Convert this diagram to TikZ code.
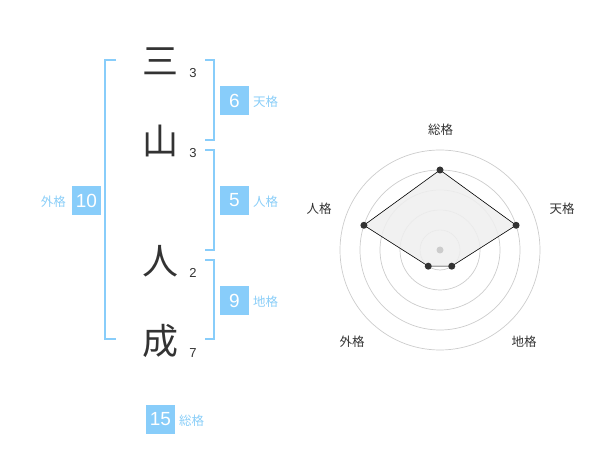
\documentclass[tikz,border=0pt]{standalone}
\usepackage{fontspec}
\usetikzlibrary{calc}
\setmainfont{Liberation Sans}
\newfontfamily\cjk{Noto Sans CJK JP}
\definecolor{kblue}{HTML}{88CDFA}
\definecolor{klabel}{HTML}{8ACEF8}
\definecolor{kdark}{HTML}{333333}
\definecolor{kring}{HTML}{CCCCCC}
\definecolor{kfill}{HTML}{EFEFEF}
\begin{document}
\begin{tikzpicture}[x=1pt,y=-1pt,
  kanji/.style={font=\cjk\fontsize{36}{36}\selectfont, text=kdark, inner sep=0pt},
  stroke/.style={font=\fontsize{13}{13}\selectfont, text=kdark, inner sep=0pt},
  numbox/.style={fill=kblue, text=white, minimum width=29pt, minimum height=29pt, inner sep=0pt, font=\fontsize{19}{19}\selectfont},
  kaku/.style={font=\cjk\fontsize{12.5}{12.5}\selectfont, text=klabel, inner sep=0pt},
  brk/.style={draw=kblue, line width=2pt},
  ring/.style={draw=kring, line width=0.7pt},
  rlabel/.style={font=\cjk\fontsize{12.5}{12.5}\selectfont, text=kdark, inner sep=0pt},
  dot/.style={circle, fill=kdark, inner sep=0pt, minimum size=7pt}]
\useasboundingbox (0,0) rectangle (600,470);
% kanji
\node[kanji] (k1) at (160,61) {三};
\node[kanji] (k2) at (160,141) {山};
\node[kanji] (k3) at (160,261) {人};
\node[kanji] (k4) at (160,341) {成};
\node[stroke] (s1) at (193,73) {3};
\node[stroke] (s2) at (193,153) {3};
\node[stroke] (s3) at (193,273) {2};
\node[stroke] (s4) at (193,353) {7};
% brackets
\coordinate (la) at (116,60); \coordinate (lb) at (116,339);
\draw[brk] (la) -- ++(-11,0) |- (lb);
\coordinate (t1) at (205,60); \coordinate (t2) at (205,140);
\draw[brk] (t1) -- ++(9,0) |- (t2);
\coordinate (j1) at (205,150); \coordinate (j2) at (205,250);
\draw[brk] (j1) -- ++(9,0) |- (j2);
\coordinate (c1) at (205,260); \coordinate (c2) at (205,339);
\draw[brk] (c1) -- ++(9,0) |- (c2);
% boxes
\node[numbox] (ten) at (234.5,100.5) {6};
\node[kaku, anchor=west] (tenl) at (253,102) {天格};
\node[numbox] (jin) at (234.5,200.5) {5};
\node[kaku, anchor=west] (jinl) at (253,202) {人格};
\node[numbox] (chi) at (234.5,300.5) {9};
\node[kaku, anchor=west] (chil) at (253,302) {地格};
\node[numbox] (gai) at (86.5,200.5) {10};
\node[kaku, anchor=east] (gail) at (66,202) {外格};
\node[numbox] (sou) at (160.5,419) {15};
\node[kaku, anchor=west] (soul) at (179,421) {総格};
% radar
\coordinate (o) at (440,250);
\foreach \r in {20,40,60,80,100} \draw[ring] (o) circle (\r);
\coordinate (pS) at ($(o)+(0,-80)$);
\path (o) ++(-18:80) coordinate (pT);
\path (o) ++(198:80) coordinate (pJ);
\path (o) ++(54:20) coordinate (pC);
\path (o) ++(126:20) coordinate (pG);
\draw[fill=kfill, fill opacity=0.85, draw=black, line width=0.6pt] (pS) -- (pT) -- (pC) -- (pG) -- (pJ) -- cycle;
\node[circle, fill=kring, inner sep=0pt, minimum size=7pt] (oc) at (o) {};
\node[dot] (dS) at (pS) {};
\node[dot] (dT) at (pT) {};
\node[dot] (dJ) at (pJ) {};
\node[dot] (dC) at (pC) {};
\node[dot] (dG) at (pG) {};
\node[rlabel] (lS) at (440.5,130) {総格};
\node[rlabel] (lT) at (562,209) {天格};
\node[rlabel] (lJ) at (319,209) {人格};
\node[rlabel] (lG) at (352,342) {外格};
\node[rlabel] (lC) at (524,342) {地格};
\end{tikzpicture}
\end{document}
